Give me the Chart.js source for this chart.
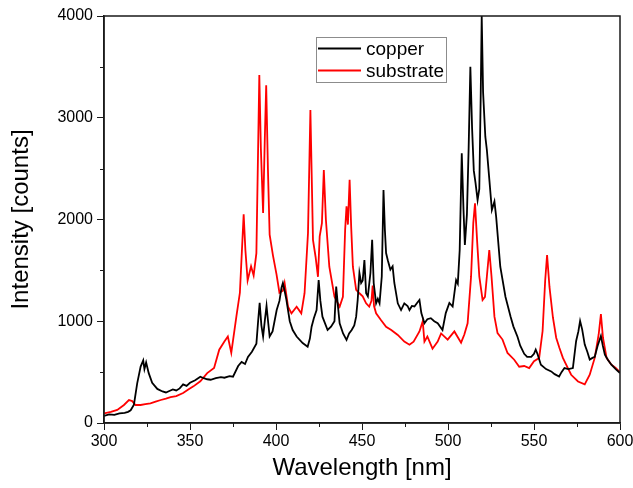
<!DOCTYPE html>
<html>
<head>
<meta charset="utf-8">
<script src="https://cdn.jsdelivr.net/npm/chart.js@4.4.1/dist/chart.umd.min.js"></script>
<style>
html,body{margin:0;padding:0;background:#fff;}
#wrap{width:633px;height:488px;position:relative;}
</style>
</head>
<body>
<div id="wrap"><canvas id="c" width="633" height="488"></canvas></div>
<script>
// ---- data ----
const seriesLabels = ["copper", "substrate"];
const xTickValues = [300, 350, 400, 450, 500, 550, 600];
const yTickValues = [0, 1000, 2000, 3000, 4000];

const copperNm = [300,303,306,309,312,314,315.5,317.4,319.3,321.3,322.8,323.5,324.5,326,328,331,334,336,338,340,342,344,346,348,350,353,356,358,360,362,365,368,370,373,375,378,380,382,383.7,386,388.6,389.6,390.5,391.5,392.5,393.6,394.5,395.5,396.3,398,400.4,402,403.2,404,405,406,408,409.7,412,415.5,418.4,419.7,420.7,422,423.6,424.8,425.8,427,430,432,434,435,436,437,439,441,442.5,444,445.5,446.6,447.5,448.5,449.5,450.4,451.4,452.4,453.4,454.9,455.9,456.8,458.2,459.2,460.2,461.5,462.5,463.3,464,465,466.5,467.8,468.8,470.8,472.7,474.6,476.5,477.6,479,480.5,482,483.4,484.5,486.3,488,490,492,494,496.8,498.7,500.8,502.7,504.7,505.7,506.8,508,509,509.8,511,512,513,514,515,516,517.2,518.2,519,519.6,520.4,521.7,522.6,524,525.5,527,528,530.4,533.4,536.4,538,540.4,542,544.3,546,548.4,550,551,552,554,557,560,562,564.6,566,567.7,570,572.6,574.5,575.8,576.8,578,579.5,581,582.4,584,585.3,587,588.9,590,591.2,593,595,597.5,600];
const copperCounts = [70,85,80,95,100,110,125,180,390,555,615,530,595,490,395,335,310,300,315,330,320,340,380,365,395,420,455,440,430,425,440,450,445,460,455,560,600,580,650,700,780,1000,1180,960,850,1020,1150,980,850,900,1110,1200,1330,1376,1300,1215,1000,914,850,786,750,830,946,1030,1110,1405,1200,1045,914,946,1000,1340,1150,980,880,816,880,914,960,1045,1210,1474,1376,1400,1602,1275,1245,1474,1800,1376,1176,1220,1176,1440,2290,1900,1670,1600,1507,1540,1376,1176,1110,1176,1150,1110,1150,1145,1180,1210,1080,980,1020,1030,1000,980,914,1080,1180,1145,1405,1370,1700,2650,2100,1750,2050,2700,3500,2900,2480,2360,2190,2300,3200,4000,3250,2814,2683,2400,2093,2177,2025,1536,1241,1045,950,848,760,680,650,650,680,722,680,573,530,507,480,457,500,540,530,540,806,900,1002,920,771,700,623,640,650,760,855,760,672,620,573,530,491];

const substrateNm = [300,304,307.7,311.6,314.5,316.4,318.3,321.3,324,327,330,333,336,338.7,342,346,349,352,356,360,364,367,370,372,374,377,379,381.2,382.2,383.5,385.5,387,388.6,389.5,390.3,391.2,392.5,393.5,394.3,395.3,396.3,398.2,400.3,402,404,405,407,409,412,414.7,416.6,418.6,420,421.5,423,424.4,425.4,426.7,427.8,429,431,434,437,438.9,440.2,441,441.8,442.8,443.7,444.7,446.6,448.5,450.4,452.4,454.2,455.5,456.2,457,458.2,461,464,467,470.8,474.6,477.6,480,483.4,485.3,486.3,488,491,494,496,499.8,503.7,507.6,509.5,511.4,513.4,514.7,515.7,517,518.2,520.1,521.5,522.6,524,525.3,527,528.8,531.7,534.6,538.5,541.4,544.3,547.2,550,553,555,556.5,557.6,559,561,562.9,564.8,566.8,568.7,571.6,575.6,579.5,582.4,585.3,587.6,588.9,590.1,592.2,595,597.5,600];
const substrateCounts = [95,110,128,177,226,215,177,177,185,193,210,226,240,255,265,295,330,360,410,490,540,720,800,850,690,1050,1280,2050,1700,1400,1540,1450,1670,2600,3420,2700,2064,2800,3320,2500,1850,1650,1460,1280,1300,1376,1143,1078,1143,1078,1275,1867,3076,1800,1634,1437,1834,1965,2487,2000,1536,1241,1143,1241,1900,2130,1950,2390,1930,1536,1308,1275,1245,1176,1143,1200,1350,1150,1078,1012,946,914,865,800,770,800,900,1000,800,850,730,800,880,820,900,790,870,980,1438,1965,2159,1768,1440,1209,1240,1440,1700,1440,1045,884,820,688,622,553,560,540,607,640,904,1400,1650,1337,1037,838,737,640,573,474,408,380,474,640,870,1070,838,640,573,540,500];

function pairs(xs, ys){ return xs.map((v,i)=>({x:v, y:ys[i]})); }

const frameAndLegend = {
  id: 'frameAndLegend',
  afterDraw(chart){
    const ctx = chart.ctx;
    const ca = chart.chartArea;
    const sx = chart.scales.x, sy = chart.scales.y;
    ctx.save();
    // frame
    ctx.strokeStyle = '#1a1a1a';
    ctx.lineWidth = 1.5;
    ctx.strokeRect(ca.left, ca.top, ca.right - ca.left, ca.bottom - ca.top);
    // minor ticks
    ctx.lineWidth = 1;
    ctx.beginPath();
    for (let i = 0; i < xTickValues.length - 1; i++) {
      const v = (xTickValues[i] + xTickValues[i+1]) / 2;
      const px = Math.round(sx.getPixelForValue(v)) + 0.5;
      ctx.moveTo(px, ca.bottom); ctx.lineTo(px, ca.bottom + 4);
    }
    for (let i = 0; i < yTickValues.length - 1; i++) {
      const v = (yTickValues[i] + yTickValues[i+1]) / 2;
      const py = Math.round(sy.getPixelForValue(v)) + 0.5;
      ctx.moveTo(ca.left, py); ctx.lineTo(ca.left - 4, py);
    }
    ctx.stroke();
    // axis titles
    ctx.fillStyle = '#000';
    ctx.font = '24px "Liberation Sans", Arial, sans-serif';
    ctx.textAlign = 'center';
    ctx.textBaseline = 'middle';
    ctx.fillText('Wavelength [nm]', (ca.left + ca.right) / 2, 468);
    ctx.save();
    ctx.translate(21, (ca.top + ca.bottom) / 2);
    ctx.rotate(-Math.PI / 2);
    ctx.fillText('Intensity [counts]', 0, 0);
    ctx.restore();
    // legend box
    const bx = 316.5, by = 37.5, bw = 130, bh = 45;
    ctx.fillStyle = '#fff';
    ctx.fillRect(bx, by, bw, bh);
    ctx.strokeStyle = '#8c8c8c';
    ctx.lineWidth = 1;
    ctx.strokeRect(bx, by, bw, bh);
    const rows = [48.5, 70.5];
    chart.data.datasets.forEach((ds, i) => {
      ctx.strokeStyle = ds.borderColor;
      ctx.lineWidth = 2;
      ctx.beginPath();
      ctx.moveTo(318, rows[i]); ctx.lineTo(361, rows[i]);
      ctx.stroke();
      ctx.fillStyle = '#000';
      ctx.font = '19px "Liberation Sans", Arial, sans-serif';
      ctx.textAlign = 'left';
      ctx.textBaseline = 'middle';
      ctx.fillText(ds.label, 366, rows[i] + 1);
    });
    ctx.restore();
  }
};

new Chart(document.getElementById('c'), {
  type: 'line',
  data: {
    datasets: [
      { label: seriesLabels[0], data: pairs(copperNm, copperCounts), borderColor: '#000000', borderWidth: 1.8, pointRadius: 0, tension: 0, fill: false },
      { label: seriesLabels[1], data: pairs(substrateNm, substrateCounts), borderColor: '#ff0000', borderWidth: 1.8, pointRadius: 0, tension: 0, fill: false }
    ]
  },
  options: {
    responsive: false,
    animation: false,
    devicePixelRatio: 1,
    layout: { padding: { left: 0, right: 13, top: 16, bottom: 0 } },
    plugins: { legend: { display: false }, tooltip: { enabled: false } },
    scales: {
      x: {
        type: 'linear', min: 300, max: 600,
        afterFit(s){ s.height = 65; s.paddingRight = 12; s.paddingLeft = 0; },
        afterBuildTicks(s){ s.ticks = xTickValues.map(v => ({value: v})); },
        grid: { drawOnChartArea: false, drawTicks: true, tickLength: 7, color: '#1a1a1a', tickWidth: 1 },
        border: { display: true, color: '#1a1a1a', width: 1.5 },
        ticks: { color: '#000', padding: 2, maxRotation: 0, autoSkip: false, callback: v => String(v), font: { size: 16, family: '"Liberation Sans", Arial, sans-serif' } }
      },
      y: {
        type: 'linear', min: 0, max: 4000,
        afterFit(s){ s.width = 104; },
        afterBuildTicks(s){ s.ticks = yTickValues.map(v => ({value: v})); },
        grid: { drawOnChartArea: false, drawTicks: true, tickLength: 7, color: '#1a1a1a', tickWidth: 1 },
        border: { display: true, color: '#1a1a1a', width: 1.5 },
        ticks: { color: '#000', padding: 4, autoSkip: false, callback: v => String(v), font: { size: 16, family: '"Liberation Sans", Arial, sans-serif' } }
      }
    }
  },
  plugins: [frameAndLegend]
});
</script>
</body>
</html>
